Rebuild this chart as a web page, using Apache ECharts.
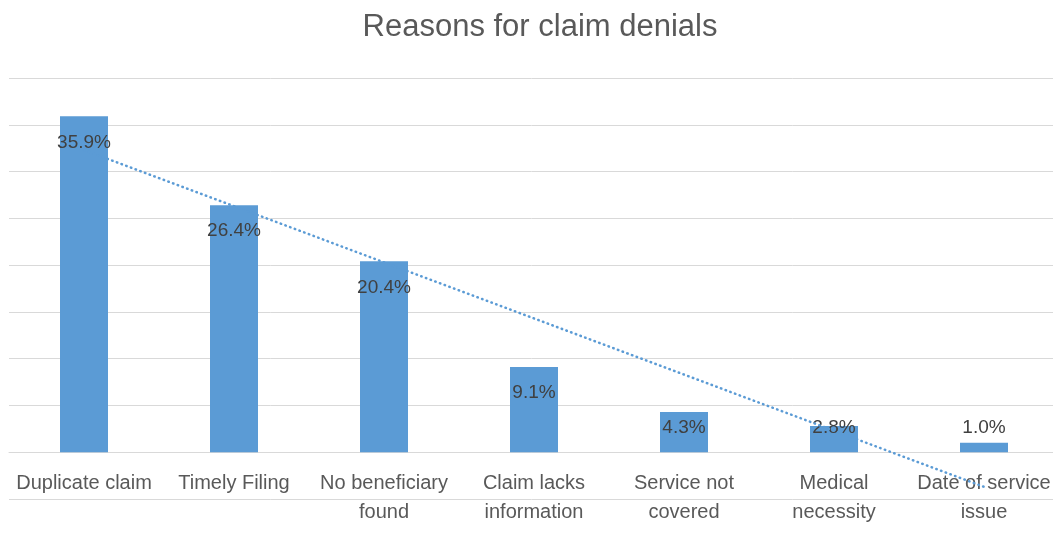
<!DOCTYPE html>
<html>
<head>
<meta charset="utf-8">
<title>Reasons for claim denials</title>
<script src="https://cdn.jsdelivr.net/npm/echarts@6/dist/echarts.min.js"></script>
<style>
  html, body { margin: 0; padding: 0; background: #fff; }
  #chart { width: 1053px; height: 543px; }
</style>
</head>
<body>
<div id="chart"></div>
<script>
// category labels (line breaks as in the picture)
var categories = ['Duplicate claim', 'Timely Filing', 'No beneficiary\nfound', 'Claim lacks\ninformation',
  'Service not\ncovered', 'Medical\nnecessity', 'Date of service\nissue']
// share of denials, %
var shares = [35.9, 26.4, 20.4, 9.1, 4.3, 2.8, 1.0]
// linear trendline, read at first and last category
var trendValues = [32.3, null, null, null, null, null, -3.7]

var chart = echarts.init(document.getElementById('chart'))

chart.setOption({
  backgroundColor: '#FFFFFF',
  animation: false,
  title: {
    text: 'Reasons for claim denials',
    left: 535,
    textAlign: 'center',
    top: 7,
    textStyle: {
      fontFamily: 'Liberation Sans',
      fontSize: 31,
      fontWeight: 'normal',
      color: '#595959'
    }
  },
  grid: {
    left: 9,
    right: -6,
    top: 78,
    bottom: 44,
    outerBoundsMode: 'none',
    containLabel: false
  },
  xAxis: {
    type: 'category',
    data: categories,
    axisLine: { show: true, onZero: true, lineStyle: { color: '#D9D9D9', width: 1 } },
    axisTick: { show: false },
    axisLabel: {
      // labels sit just under the zero line, above the -5 gridline
      margin: -30,
      fontFamily: 'Liberation Sans',
      fontSize: 20,
      lineHeight: 29,
      color: '#595959',
      interval: 0
    }
  },
  yAxis: {
    type: 'value',
    min: -5,
    max: 40,
    interval: 5,
    axisLabel: { show: false },
    axisLine: { show: false },
    axisTick: { show: false },
    splitLine: { lineStyle: { color: '#D9D9D9', width: 1 } }
  },
  series: [
    {
      name: 'Share',
      type: 'bar',
      data: shares,
      barWidth: 48,
      itemStyle: { color: '#5B9BD5' },
      label: {
        show: true,
        position: 'insideTop',
        formatter: function (p) { return p.value.toFixed(1) + '%' },
        fontFamily: 'Liberation Sans',
        fontSize: 19,
        color: '#404040'
      },
      labelLayout: function (p) {
        // inside end, but never lower than just above the baseline
        var r = p.rect
        return {
          x: r.x + r.width / 2,
          y: Math.min(r.y + 26, r.y + r.height - 24),
          align: 'center',
          verticalAlign: 'middle'
        }
      },
      z: 2
    },
    {
      name: 'Trend',
      type: 'line',
      data: trendValues,
      connectNulls: true,
      symbol: 'none',
      lineStyle: { color: '#5B9BD5', width: 2.5, type: [0.5, 4.5], cap: 'round' },
      silent: true,
      z: 3
    }
  ]
})
</script>
</body>
</html>
